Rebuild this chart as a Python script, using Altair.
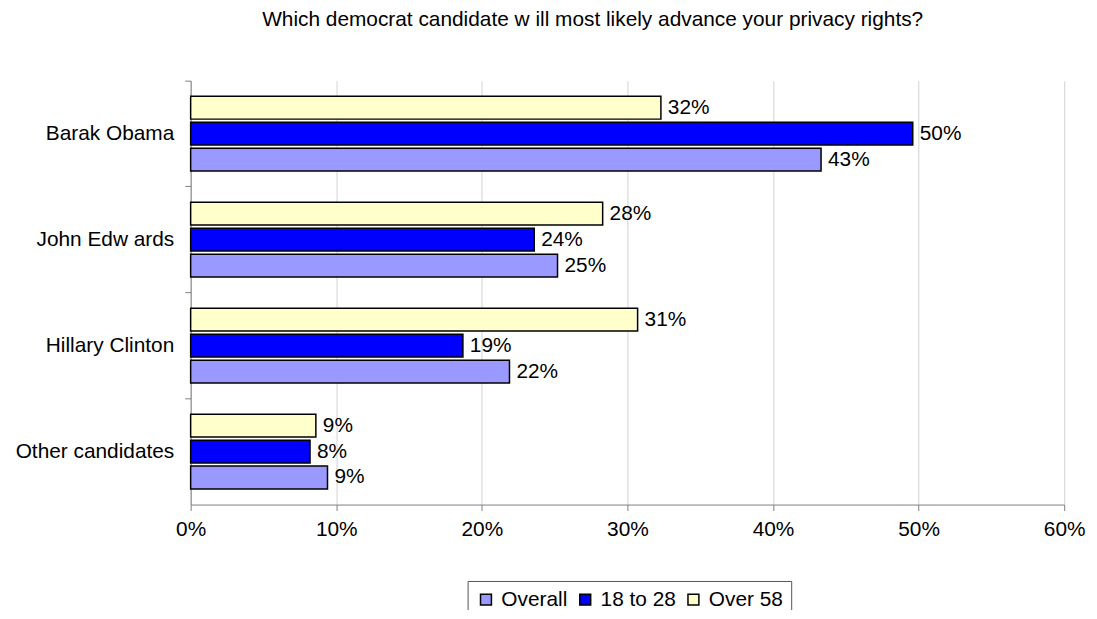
import altair as alt
import pandas as pd

candidates = ["Barak Obama", "John Edw ards", "Hillary Clinton", "Other candidates"]
overall = [0.433, 0.252, 0.219, 0.094]
age_18_28 = [0.496, 0.236, 0.187, 0.082]
over_58 = [0.323, 0.283, 0.307, 0.086]
series = ["Overall", "18 to 28", "Over 58"]
colors = ["#9999FF", "#0000FF", "#FFFFCC"]
x_ticks = [0, 0.1, 0.2, 0.3, 0.4, 0.5, 0.6]

rows = []
for i, c in enumerate(candidates):
    for s, vals in zip(series, [overall, age_18_28, over_58]):
        rows.append({"candidate": c, "series": s, "value": vals[i]})
df = pd.DataFrame(rows)

FONT = "Liberation Sans"
FS = 21

y_enc = alt.Y("candidate:N", sort=candidates, title=None,
              scale=alt.Scale(paddingInner=0, paddingOuter=0),
              axis=alt.Axis(labelFontSize=FS, labelFont=FONT, labelColor="#000",
                            labelPadding=11, tickSize=6, tickColor="#808080",
                            domainColor="#808080", bandPosition=0, grid=False))
yoff = alt.YOffset("series:N", sort=["Over 58", "18 to 28", "Overall"],
                   scale=alt.Scale(paddingInner=0.12, paddingOuter=0.6))
x_enc = alt.X("value:Q", title=None,
              scale=alt.Scale(domain=[0, 0.6], nice=False),
              axis=alt.Axis(values=x_ticks, format=".0%", labelFontSize=FS,
                            labelFont=FONT, labelColor="#000", labelPadding=8,
                            labelFlush=False,
                            tickSize=6, tickColor="#808080", domainColor="#808080",
                            gridColor="#d9d9d9", gridWidth=1.2))

bars = alt.Chart(df).mark_bar(stroke="black", strokeWidth=1.5).encode(
    y=y_enc, yOffset=yoff, x=x_enc,
    fill=alt.Fill("series:N", scale=alt.Scale(domain=series, range=colors),
                  legend=alt.Legend(title=None, orient="none", direction="horizontal",
                                    legendX=279, legendY=504,
                                    labelFontSize=FS, labelFont=FONT, labelColor="#000",
                                    symbolType="square", symbolSize=121,
                                    symbolStrokeColor="black", symbolStrokeWidth=1.5,
                                    strokeColor="#555", fillColor="white",
                                    padding=8, columnPadding=7, labelOffset=5))
)

labels = alt.Chart(df).mark_text(align="left", baseline="middle", dx=7,
                                 fontSize=FS, font=FONT, color="#000").encode(
    y=alt.Y("candidate:N", sort=candidates),
    yOffset=alt.YOffset("series:N", sort=["Over 58", "18 to 28", "Overall"]),
    x=alt.X("value:Q"),
    text=alt.Text("value:Q", format=".0%"),
)

chart = alt.layer(bars, labels).properties(
    width=880, height=427,
    padding={"left": 184, "top": 71, "right": 25, "bottom": 104},
    autosize=alt.AutoSizeParams(type="none"),
    title=alt.TitleParams("Which democrat candidate w ill most likely advance your privacy rights?",
                          fontSize=FS, font=FONT, fontWeight="normal", color="#000",
                          anchor="middle", dx=-35, offset=51),
).configure_view(stroke=None)

chart.save("out.html", embed_options={"renderer": "svg", "actions": False})
